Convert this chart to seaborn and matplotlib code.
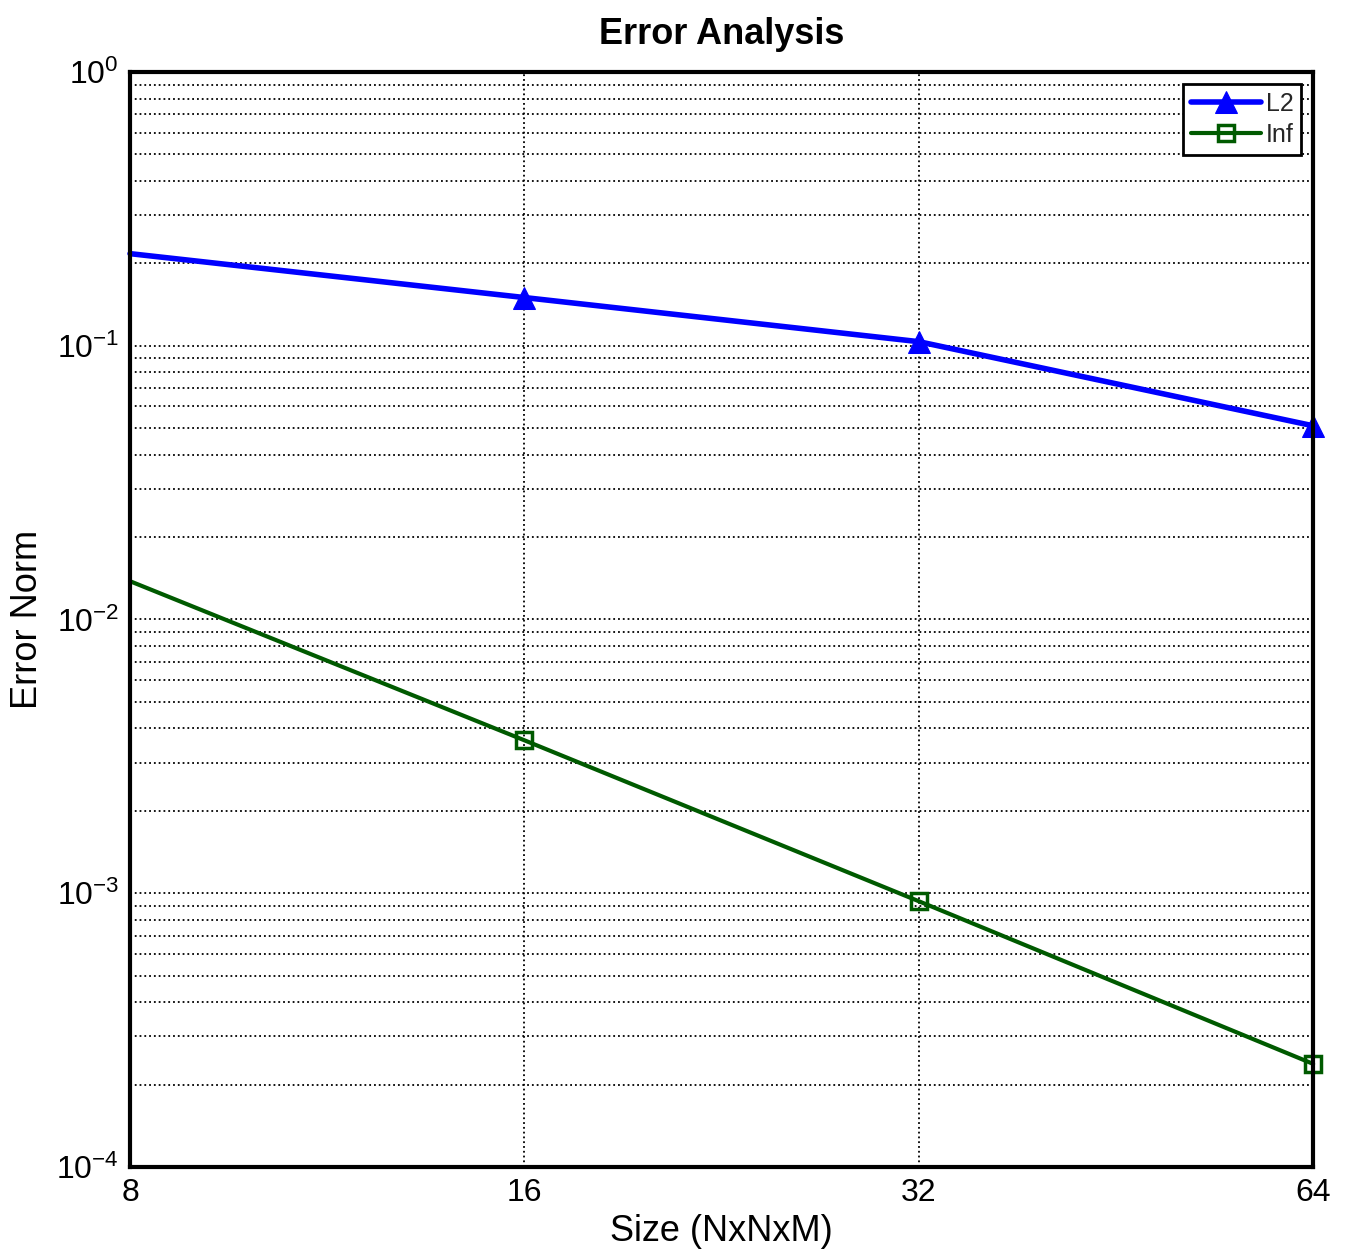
import numpy as np
import pandas as pd
import matplotlib
matplotlib.use("Agg")
import matplotlib.pyplot as plt
import matplotlib.ticker as mticker
import seaborn as sns

# data
sizes = [8, 16, 32, 64]
l2_err = [0.217, 0.150, 0.1035, 0.051]
inf_err = [0.0138, 0.00362, 0.000935, 0.000238]

df = pd.DataFrame({
    "size": sizes * 2,
    "err": l2_err + inf_err,
    "norm": ["L2"] * len(sizes) + ["Inf"] * len(sizes),
})

sns.set_theme(style="white")
plt.rcParams["font.family"] = ["Liberation Sans", "DejaVu Sans"]
plt.rcParams["mathtext.fontset"] = "custom"
plt.rcParams["mathtext.rm"] = "Liberation Sans"
plt.rcParams["mathtext.default"] = "regular"

fig = plt.figure(figsize=(13.46, 12.59), dpi=100)
ax = fig.add_axes([0.0966, 0.0731, 0.879, 0.8697])

palette = {"L2": "#0000ff", "Inf": "#005a00"}
sns.lineplot(data=df, x="size", y="err", hue="norm", style="norm",
             markers={"L2": "^", "Inf": "s"}, dashes=False,
             palette=palette, ax=ax, legend=False)

lines = ax.get_lines()
for ln, lab in zip(lines, ["L2", "Inf"]):
    ln.set_markevery([1, 2, 3])
    ln.set_clip_on(False)
    ln.set_label(lab)
    if lab == "L2":
        ln.set_linewidth(4)
        ln.set_markersize(16)
        ln.set_markerfacecolor("#0000ff")
        ln.set_markeredgecolor("#0000ff")
    else:
        ln.set_linewidth(3)
        ln.set_markersize(12)
        ln.set_markerfacecolor("none")
        ln.set_markeredgecolor("#005a00")
        ln.set_markeredgewidth(2.5)

ax.set_xscale("log", base=2)
ax.set_yscale("log")
ax.set_xlim(8, 64)
ax.set_ylim(1e-4, 1e0)
ax.set_xticks(sizes)
ax.xaxis.set_major_formatter(mticker.FuncFormatter(lambda v, p: f"{int(v)}"))
ax.xaxis.set_minor_locator(mticker.NullLocator())
ax.yaxis.set_minor_locator(mticker.LogLocator(base=10, subs=np.arange(2, 10)))
ax.yaxis.set_minor_formatter(mticker.NullFormatter())

ax.grid(True, which="major", axis="both", color="black", linestyle=":", linewidth=1.3)
ax.grid(True, which="minor", axis="y", color="black", linestyle=":", linewidth=1.3)

for sp in ax.spines.values():
    sp.set_color("black")
    sp.set_linewidth(3)

ax.tick_params(axis="both", which="both", direction="in", length=6,
               color="black", labelsize=23, labelcolor="black", pad=8)
ax.tick_params(axis="y", which="minor", length=3)

ax.set_xlabel("Size (NxNxM)", fontsize=26, color="black", labelpad=4)
ax.set_ylabel("Error Norm", fontsize=26, color="black", labelpad=8)
ax.set_title("Error Analysis", fontsize=26, fontweight="bold", color="black", pad=20)

leg = ax.legend(loc="upper right", fontsize=18, frameon=True, fancybox=False,
                edgecolor="black", framealpha=1, handlelength=2.8,
                borderpad=0.3, labelspacing=0.3, handletextpad=0.2,
                borderaxespad=0, bbox_to_anchor=(0.99, 0.989))
leg.get_frame().set_linewidth(2)

fig.savefig("out.png", dpi=100)
